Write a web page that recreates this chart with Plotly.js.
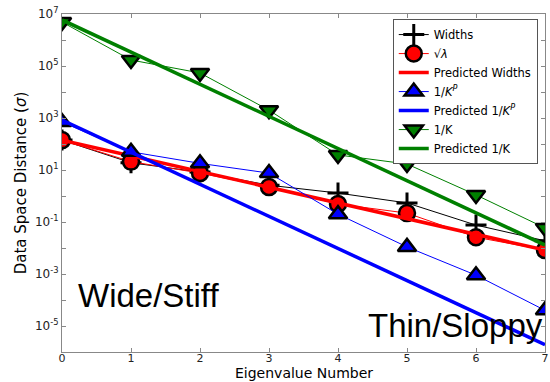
<!DOCTYPE html>
<html><head><meta charset="utf-8">
<script src="https://cdn.plot.ly/plotly-3.0.1.min.js"></script>
<style>html,body{margin:0;padding:0;background:#fff}#chart{width:550px;height:382px}</style>
</head><body><div id="chart"></div>
<script>
const eigen = [0, 1, 2, 3, 4, 5, 6, 7];
const widths = [141, 19, 8.3, 2.6, 1.3, 0.54, 0.076, 0.019];
const sqrtLambda = [141, 21, 7.6, 2.2, 0.49, 0.22, 0.026, 0.0083];
const invKP = [700, 50, 18, 7.6, 0.2, 0.011, 0.0009, 0.00004];
const invK = [4.9e6, 1.7e5, 5.4e4, 2000, 38, 17, 1.1, 0.059];
const predX = [0, 7];
const predWidths = [141, 0.0083];
const predInvKP = [830, 1.9e-6];
const predInvK = [5.9e6, 0.013];
const yLabelExp = [-5, -3, -1, 1, 3, 5, 7];
const yMinorExp = [-6, -4, -2, 0, 2, 4, 6];

const font = "DejaVu Sans, sans-serif";
const annFont = "Liberation Sans, Arial, sans-serif";
const traces = [
  {x: eigen, y: widths, name: 'Widths', mode: 'lines+markers',
   line: {color: 'black', width: 1},
   marker: {symbol: 'cross-thin', size: 15, line: {color: 'black', width: 3}}},
  {x: eigen, y: sqrtLambda, name: '√<i>λ</i>', mode: 'lines+markers',
   line: {color: 'red', width: 1},
   marker: {symbol: 'circle', size: 16, color: 'red', line: {color: 'black', width: 2.5}}},
  {x: predX, y: predWidths, name: 'Predicted Widths', mode: 'lines',
   line: {color: 'red', width: 3.5}},
  {x: eigen, y: invKP, name: '1/<i>K</i><sup><i>P</i></sup>', mode: 'lines+markers',
   line: {color: 'blue', width: 1},
   marker: {symbol: 'triangle-up', size: 16, color: 'blue', line: {color: 'black', width: 2.5}}},
  {x: predX, y: predInvKP, name: 'Predicted 1/<i>K</i><sup><i>P</i></sup>', mode: 'lines',
   line: {color: 'blue', width: 3.5}},
  {x: eigen, y: invK, name: '1/K', mode: 'lines+markers',
   line: {color: 'green', width: 1},
   marker: {symbol: 'triangle-down', size: 16, color: 'green', line: {color: 'black', width: 2.5}}},
  {x: predX, y: predInvK, name: 'Predicted 1/K', mode: 'lines',
   line: {color: 'green', width: 3.5}}
];

const layout = {
  width: 550, height: 382,
  margin: {l: 62, r: 5, t: 14, b: 30},
  paper_bgcolor: '#fff', plot_bgcolor: '#fff',
  font: {family: font, color: '#000', size: 12},
  showlegend: true,
  legend: {x: 0.985, xanchor: 'right', y: 0.985, yanchor: 'top', bgcolor: '#fff',
           bordercolor: '#555', borderwidth: 1, font: {size: 11.5, family: font},
           tracegroupgap: 0, itemwidth: 30},
  xaxis: {range: [0, 7], tickvals: eigen, ticks: 'inside', ticklen: 4,
          showgrid: false, zeroline: false, showline: true, mirror: 'ticks',
          linecolor: '#888', tickcolor: '#888', linewidth: 1,
          tickfont: {size: 11, color: '#222'}, ticklabelstandoff: -4},
  yaxis: {type: 'log', range: [-6, 7],
          tickvals: yLabelExp.map(e => Math.pow(10, e)),
          ticktext: yLabelExp.map(e => '10<sup>' + e + '</sup>'),
          minor: {tickmode: 'array', tickvals: yMinorExp.map(e => Math.pow(10, e)),
                  ticks: 'inside', ticklen: 4, tickcolor: '#888', showgrid: false},
          ticks: 'inside', ticklen: 4, showgrid: false, zeroline: false,
          showline: true, mirror: 'ticks', linecolor: '#888', tickcolor: '#888',
          tickfont: {size: 12, color: '#222'},
          title: {text: 'Data Space Distance (<i>σ</i>)', font: {size: 15}, standoff: 4}},
  annotations: [
    {xref: 'paper', yref: 'paper', x: 0.5, y: -0.0888, xanchor: 'center', yanchor: 'bottom',
     text: 'Eigenvalue Number', showarrow: false, borderpad: 0, font: {size: 14, family: font}},
    {xref: 'paper', yref: 'paper', x: 0.03, y: 0.166, xanchor: 'left', yanchor: 'middle',
     text: 'Wide/Stiff', showarrow: false, font: {size: 33, family: annFont}},
    {xref: 'paper', yref: 'paper', x: 1.0, y: 0.077, xanchor: 'right', yanchor: 'middle',
     text: 'Thin/Sloppy', showarrow: false, font: {size: 33, family: annFont}}
  ]
};
Plotly.newPlot('chart', traces, layout, {displayModeBar: false, staticPlot: true});
</script>
</body></html>
